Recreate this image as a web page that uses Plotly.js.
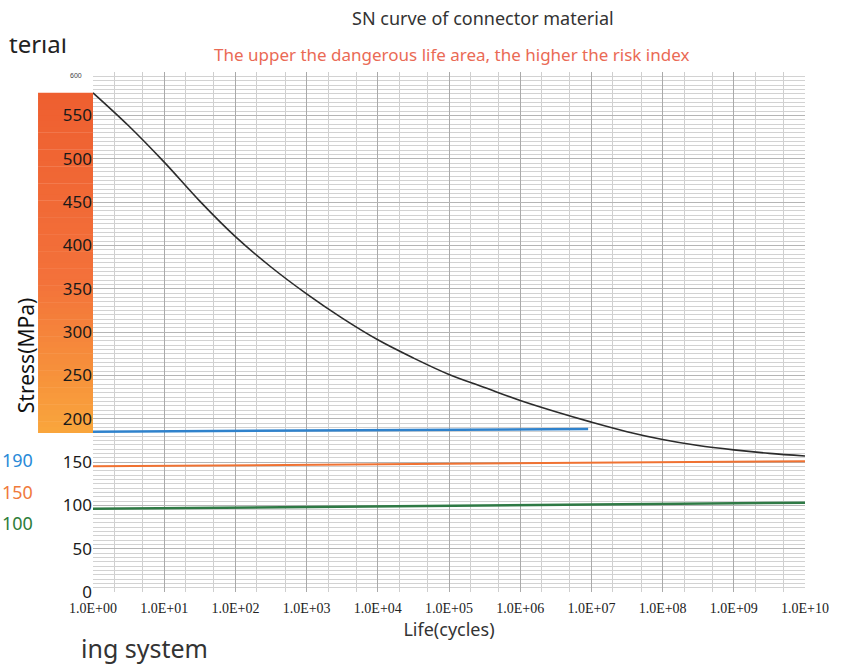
<!DOCTYPE html>
<html>
<head>
<meta charset="utf-8">
<script src="https://cdn.plot.ly/plotly-3.0.1.min.js"></script>
<style>html,body{margin:0;padding:0;background:#fff;}#chart{width:857px;height:666px;}</style>
</head>
<body>
<div id="chart"></div>
<script>
// S-N curve (life in cycles, stress in MPa)
const curveLife   = [1, 3.16, 10, 31.6, 100, 316, 1e3, 3.16e3, 1e4, 3.16e4, 1e5, 3.16e5, 1e6, 3.16e6, 1e7, 3.16e7, 1e8, 3.16e8, 1e9, 3.16e9, 1e10];
const curveStress = [576, 538, 496, 451, 410, 375, 344, 316, 291, 270, 251, 236, 221, 208, 196, 185, 176, 169, 164, 160, 157];

// reference stress lines (slightly tilted in the scan)
const blueLife   = [1, 9e6];
const blueStress = [185, 188];
const orangeLife   = [1, 1e10];
const orangeStress = [145, 151];
const greenLife   = [1, 1e10];
const greenStress = [96, 103];

const xTickVals = [1, 1e1, 1e2, 1e3, 1e4, 1e5, 1e6, 1e7, 1e8, 1e9, 1e10];
const xTickText = ["1.0E+00","1.0E+01","1.0E+02","1.0E+03","1.0E+04","1.0E+05","1.0E+06","1.0E+07","1.0E+08","1.0E+09","1.0E+10"];
const yTickVals = [0, 50, 100, 150, 200, 250, 300, 350, 400, 450, 500, 550];
const yTickText = ["0","50","100","150","200","250","300","350","400","450","500","550"];
const levelLabels = ["190", "150", "100"];
const dangerBand = [184, 576]; // stress span of the orange danger bar

const traces = [
  {x: curveLife, y: curveStress, mode: 'lines', line: {color: '#2b2b2b', width: 1.6, shape: 'spline', smoothing: 1}, showlegend: false},
  {x: blueLife, y: blueStress, mode: 'lines', line: {color: '#2f82cc', width: 2.5}, showlegend: false},
  {x: orangeLife, y: orangeStress, mode: 'lines', line: {color: '#f07232', width: 2}, showlegend: false},
  {x: greenLife, y: greenStress, mode: 'lines', line: {color: '#2f7a45', width: 2.5}, showlegend: false}
];

// gradient bar built from thin strips
function hex(c){return [parseInt(c.slice(1,3),16),parseInt(c.slice(3,5),16),parseInt(c.slice(5,7),16)];}
const stops = [[0,'#ee5f30'],[0.55,'#f3713a'],[1,'#f9a63c']];
function colAt(t){
  for (let i=0;i<stops.length-1;i++){
    if (t<=stops[i+1][0]){
      const a=hex(stops[i][1]), b=hex(stops[i+1][1]);
      const f=(t-stops[i][0])/(stops[i+1][0]-stops[i][0]);
      return 'rgb('+a.map((v,k)=>Math.round(v+(b[k]-v)*f)).join(',')+')';
    }
  }
  return stops[stops.length-1][1];
}
const shapes = [];
const N = 60;
const bandTop = dangerBand[1], bandBot = dangerBand[0];
for (let i=0;i<N;i++){
  const y1 = bandTop - (bandTop-bandBot)*i/N, y0 = bandTop - (bandTop-bandBot)*(i+1)/N;
  shapes.push({type:'rect', xref:'paper', yref:'y', x0:-0.0772, x1:0, y0:y0-0.5, y1:y1, fillcolor: colAt((i+0.5)/N), line:{width:0}, layer:'below'});
}

const layout = {
  width: 857, height: 666,
  margin: {l: 93, r: 52, t: 72, b: 74},
  paper_bgcolor: '#ffffff', plot_bgcolor: '#ffffff',
  font: {family: 'Open Sans, Noto Sans, sans-serif', color: '#222'},
  xaxis: {
    type: 'log', range: [0, 10],
    tickmode: 'array', tickvals: xTickVals, ticktext: xTickText,
    tickfont: {family: 'Liberation Serif, serif', size: 14, color: '#222'},
    ticklabelstandoff: 6,
    showgrid: true, gridcolor: '#aaaaaa', gridwidth: 1,
    minor: {showgrid: true, gridcolor: '#cfcfcf', gridwidth: 1},
    zeroline: false, showline: false, ticks: '',
    title: {text: 'Life(cycles)', font: {family: 'Noto Sans, sans-serif', size: 18, color: '#333'}, standoff: 8}
  },
  yaxis: {
    range: [0, 600],
    tickmode: 'array', tickvals: yTickVals, ticktext: yTickText,
    tickfont: {family: 'Noto Sans, sans-serif', size: 17, color: '#1a1a1a'},
    showgrid: true, gridcolor: '#b5b5b5', gridwidth: 1,
    minor: {dtick: 5, showgrid: true, gridcolor: '#d2d2d2', gridwidth: 1},
    zeroline: false, showline: false, ticks: '', ticklen: 0,
    title: {text: ''}
  },
  shapes: shapes,
  annotations: [
    {text: 'SN curve of connector material', xref: 'paper', yref: 'paper', x: 0.548, y: 1.104, xanchor: 'center', yanchor: 'middle', showarrow: false, font: {family: 'Noto Sans, sans-serif', size: 18, color: '#333'}},
    {text: 'The upper the dangerous life area, the higher the risk index', xref: 'paper', yref: 'paper', x: 0.504, y: 1.033, xanchor: 'center', yanchor: 'middle', showarrow: false, font: {family: 'Noto Sans, sans-serif', size: 17, color: '#ea6a55'}},
    {text: 'Stress(MPa)', xref: 'paper', yref: 'paper', x: -0.093, y: 0.455, xanchor: 'center', yanchor: 'middle', textangle: -90, showarrow: false, font: {family: 'Noto Sans, sans-serif', size: 21, color: '#111'}},
    {text: '600', xref: 'paper', yref: 'y', x: -0.012, y: 596, xanchor: 'right', yanchor: 'middle', showarrow: false, font: {family: 'Liberation Sans, sans-serif', size: 7, color: '#444'}},
    {text: levelLabels[0], xref: 'paper', yref: 'paper', x: -0.131, y: 0.253, xanchor: 'left', yanchor: 'middle', showarrow: false, font: {family: 'Noto Sans, sans-serif', size: 18, color: '#2a8ad8'}},
    {text: levelLabels[1], xref: 'paper', yref: 'paper', x: -0.131, y: 0.192, xanchor: 'left', yanchor: 'middle', showarrow: false, font: {family: 'Noto Sans, sans-serif', size: 18, color: '#f07a3c'}},
    {text: levelLabels[2], xref: 'paper', yref: 'paper', x: -0.131, y: 0.132, xanchor: 'left', yanchor: 'middle', showarrow: false, font: {family: 'Noto Sans, sans-serif', size: 18, color: '#2e7d3a'}},
    {text: 'ing system', xref: 'paper', yref: 'paper', x: -0.02, y: -0.108, xanchor: 'left', yanchor: 'middle', showarrow: false, font: {family: 'Noto Sans, sans-serif', size: 25, color: '#333'}},
    {text: 'terial', xref: 'paper', yref: 'paper', x: -0.121, y: 1.054, xanchor: 'left', yanchor: 'middle', showarrow: false, font: {family: 'Noto Sans, sans-serif', size: 24, color: '#222'}},
    {text: ' ', xref: 'paper', yref: 'paper', x: -0.125, y: 1.086, xanchor: 'left', yanchor: 'middle', showarrow: false, width: 80, height: 20, bgcolor: '#ffffff'}
  ]
};

Plotly.newPlot('chart', traces, layout, {displayModeBar: false, staticPlot: true});
</script>
</body>
</html>
